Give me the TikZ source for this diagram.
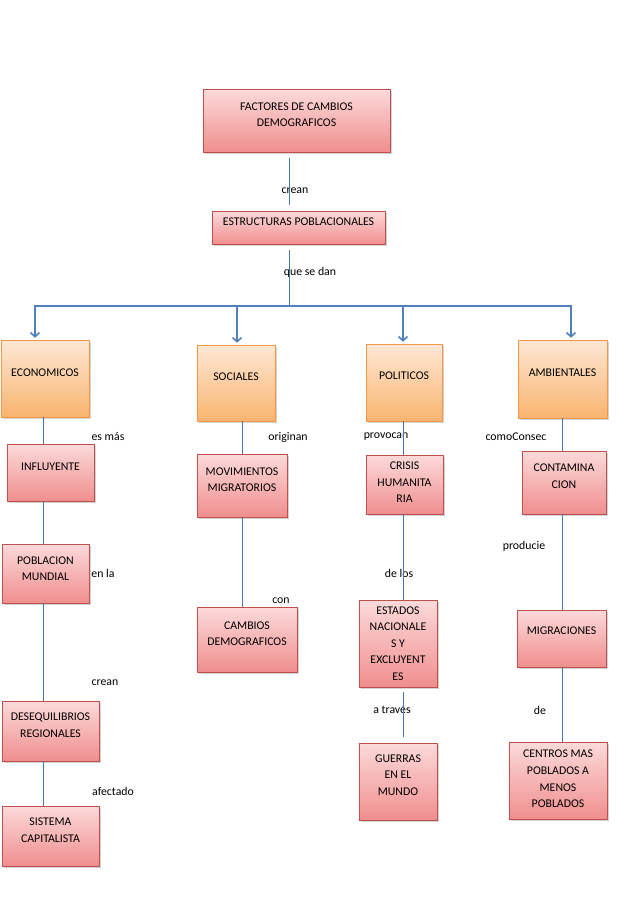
\documentclass[tikz,border=0pt]{standalone}
\usepackage{fontspec}
\setmainfont{Carlito}
\usetikzlibrary{arrows.meta,shadows}
\definecolor{rosaA}{HTML}{FCDADA}
\definecolor{rosaB}{HTML}{F08E8E}
\definecolor{bordeR}{HTML}{C0504D}
\definecolor{narA}{HTML}{FDE8D5}
\definecolor{narB}{HTML}{F9B46F}
\definecolor{bordeN}{HTML}{F79646}
\definecolor{azul}{HTML}{4F81BD}
\definecolor{linea}{HTML}{4676AC}

\begin{document}
\begin{tikzpicture}[x=1pt, y=-1pt,
  caja/.style={draw, line width=.6pt, align=center, inner sep=2pt, text depth=12pt,
    font=\fontsize{11.8}{16.6}\selectfont,
    drop shadow={shadow xshift=1.5pt, shadow yshift=-2pt, fill=black!50, opacity=.35}},
  rosa/.style={caja, draw=bordeR, top color=rosaA, bottom color=rosaB},
  naranja/.style={caja, draw=bordeN, top color=narA, bottom color=narB},
  lbl/.style={font=\fontsize{11.8}{14}\selectfont, inner sep=0pt},
  lin/.style={draw=linea, line width=.8pt},
  flecha/.style={draw=azul, line width=1.6pt, -{Straight Barb[length=4pt,width=9pt]}, shorten >=2pt}]

\useasboundingbox (0,0) rectangle (638,903);

\node[rosa, minimum width=187pt, minimum height=63pt] (fac) at (296.5,120.5) {FACTORES DE CAMBIOS\\DEMOGRAFICOS};
\node[rosa, minimum width=173pt, minimum height=33pt] (estr) at (298.5,227.5) {ESTRUCTURAS POBLACIONALES};

\node[naranja, minimum width=88pt, minimum height=77pt] (eco) at (45,378.5) {ECONOMICOS};
\node[naranja, minimum width=78pt, minimum height=76pt] (soc) at (236,383) {SOCIALES};
\node[naranja, minimum width=76pt, minimum height=77pt, text depth=14pt] (pol) at (404,382.5) {POLITICOS};
\node[naranja, minimum width=89pt, minimum height=78pt, text depth=13pt] (amb) at (562.5,379) {AMBIENTALES};

\node[rosa, minimum width=87pt, minimum height=57pt] (inf) at (50.5,472.5) {INFLUYENTE};
\node[rosa, minimum width=87pt, minimum height=59pt, text depth=10pt] (pob) at (45.5,573.5) {POBLACION\\MUNDIAL};
\node[rosa, minimum width=97pt, minimum height=60pt] (des) at (50.5,731) {DESEQUILIBRIOS\\REGIONALES};
\node[rosa, minimum width=97pt, minimum height=60pt] (sis) at (50.5,836) {SISTEMA\\CAPITALISTA};

\node[rosa, minimum width=90pt, minimum height=63pt] (mov) at (242,485.5) {MOVIMIENTOS\\MIGRATORIOS};
\node[rosa, minimum width=100pt, minimum height=65pt] (cam) at (247,639.5) {CAMBIOS\\DEMOGRAFICOS};

\node[rosa, minimum width=77pt, minimum height=59pt, text depth=4pt] (cri) at (404.5,484.5) {CRISIS\\HUMANITA\\RIA};
\node[rosa, minimum width=78pt, minimum height=87pt, text depth=0pt] (esta) at (398,643.5) {ESTADOS\\NACIONALE\\S Y\\EXCLUYENT\\ES};
\node[rosa, minimum width=78pt, minimum height=77pt, text depth=13pt] (gue) at (398,781.5) {GUERRAS\\EN EL\\MUNDO};

\node[rosa, minimum width=84pt, minimum height=63pt, text depth=13pt] (con) at (564,482.5) {CONTAMINA\\CION};
\node[rosa, minimum width=89pt, minimum height=57pt, text depth=15pt] (mig) at (561.5,638.5) {MIGRACIONES};
\node[rosa, minimum width=98pt, minimum height=77pt, text depth=3pt] (cen) at (558,780.5) {CENTROS MAS\\POBLADOS A\\MENOS\\POBLADOS};

\foreach \x/\y/\t [count=\i] in {295/191/crean, 310/272/que se dan, 108/437/es más,
  288/437/originan, 386/437/provocan, 516/437/comoConsec, 103/573/en la, 281/601/con,
  399/573/de los, 524/546/producie, 105/683/crean, 392/710/a través, 540/710/de,
  113/791/afectado}{
  \node[lbl] (e\i) at (\x,\y) {\t};
}

\coordinate (tronco) at (289,306);
\coordinate (k1) at (43,0);
\coordinate (k2) at (242,0);
\coordinate (k3) at (403,0);
\coordinate (k4) at (562,0);

\draw[lin, shorten <=6pt, shorten >=6pt] (fac.south -| tronco) -- (estr.north -| tronco);
\draw[lin, shorten <=6pt] (estr.south -| tronco) -- (tronco);
\foreach \n/\d in {eco/-10, soc/1, pol/-1, amb/8.5}{
  \draw[flecha] (tronco) -| ([xshift=\d pt]\n.north);
}

\foreach \a/\b/\k in {eco/inf/k1, inf/pob/k1, pob/des/k1, des/sis/k1, soc/mov/k2, mov/cam/k2,
  pol/cri/k3, cri/esta/k3, amb/con/k4, con/mig/k4, mig/cen/k4}{
  \draw[lin] (\a.south -| \k) -- (\b.north -| \k);
}
\draw[lin, shorten <=5pt, shorten >=6pt] (esta.south -| k3) -- (gue.north -| k3);

\end{tikzpicture}
\end{document}
